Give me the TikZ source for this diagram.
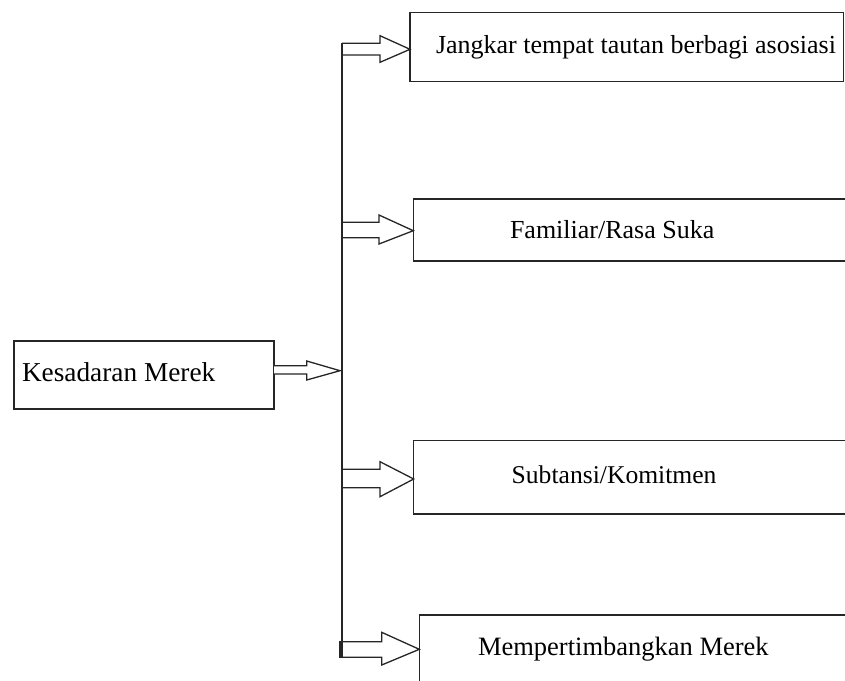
\documentclass[tikz,border=0pt]{standalone}
\usepackage{fontspec}
\setmainfont{Liberation Serif}
\begin{document}
\begin{tikzpicture}[x=1pt,y=-1pt,
  ln/.style={line width=1.3pt,draw=black!85},
  boxnode/.style={ln,rectangle,inner sep=0pt,outer sep=0pt,anchor=north west},
  lbl/.style={anchor=base west,inner sep=0pt,outer sep=0pt,font=\fontsize{26}{30}\selectfont},
  barrow/.style={ln,line join=miter,fill=white}]
\useasboundingbox (0,0) rectangle (845,680);
\clip (0,0) rectangle (845,680);
\fill[white] (0,0) rectangle (845,680);
% boxes
\node[boxnode,minimum width=260pt,minimum height=68pt] (b0) at (14,341) {};
\node[boxnode,minimum width=433.5pt,minimum height=69pt] (b1) at (410,12.7) {};
\node[boxnode,minimum width=440pt,minimum height=62pt] (b2) at (413.3,199) {};
\node[boxnode,minimum width=440pt,minimum height=73.3pt] (b3) at (413.7,440.7) {};
\node[boxnode,minimum width=440pt,minimum height=85pt] (b4) at (419.3,615) {};
% labels
\node[lbl,font=\fontsize{27.3}{31}\selectfont] (t0) at (22,381.7) {Kesadaran Merek};
\node[lbl] (t1) at (436,53.3) {Jangkar tempat tautan berbagi asosiasi};
\node[lbl] (t2) at (510,238) {Familiar/Rasa Suka};
\node[lbl,font=\fontsize{25.6}{30}\selectfont] (t3) at (511.7,483) {Subtansi/Komitmen};
\node[lbl,font=\fontsize{26.5}{30}\selectfont] (t4) at (478,655) {Mempertimbangkan Merek};
% spine
\coordinate (sTop) at (342,43.3);
\coordinate (sBot) at (342,657.3);
\draw[ln] (sTop) -- (sBot);
% arrow from left box to spine
\draw[barrow] (b0.east |- 0,365.7) -- (306.7,365.7) -- (306.7,361) -- (340,370.7)
  -- (306.7,380) -- (306.7,374) -- (b0.east |- 0,374);
% arrows from spine to boxes
\draw[barrow] (sTop) -- (380,43.3) -- (380,35.7) -- (b1.west |- 0,49.3)
  -- (380,62.3) -- (380,55) -- (342,55);
\draw[barrow] (342,222.3) -- (379,222.3) -- (379,215) -- (b2.west |- 0,230.7)
  -- (379,244) -- (379,237.7) -- (342,237.7);
\draw[barrow] (342,469.3) -- (380,469.3) -- (380,461.7) -- (b3.west |- 0,479)
  -- (380,496.7) -- (380,487.7) -- (342,487.7);
\draw[barrow] (342,641.7) -- (381.7,641.7) -- (381.7,632.3) -- (b4.west |- 0,649.3)
  -- (381.7,665) -- (381.7,657.3) -- (sBot);
\fill[black!85] (339.3,641.2) rectangle (342.6,657.8);
\draw[ln] (sTop) -- (sBot);
\end{tikzpicture}
\end{document}
